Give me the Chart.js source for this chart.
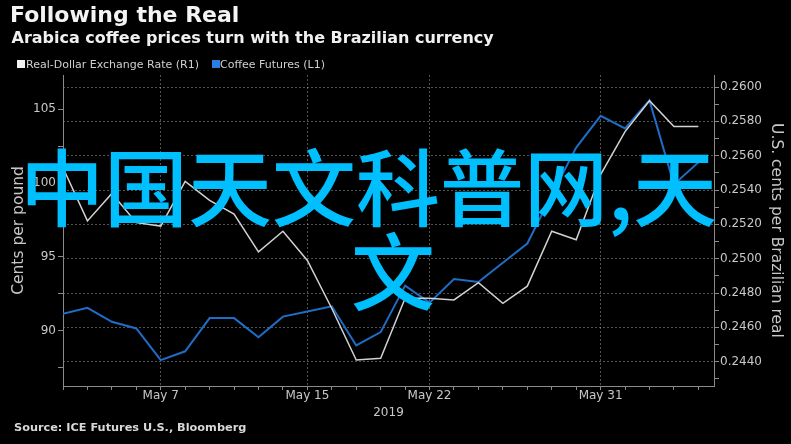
<!DOCTYPE html>
<html>
<head>
<meta charset="utf-8">
<script src="https://cdn.jsdelivr.net/npm/chart.js@4.4.1/dist/chart.umd.min.js"></script>
<style>
  body { margin: 0; background: #000; }
  #wrap { position: relative; width: 791px; height: 444px; overflow: hidden; background: #000; font-family: 'DejaVu Sans', sans-serif; }
  #c { position: absolute; left: 0; top: 0; }
  .txt { position: absolute; white-space: nowrap; line-height: 1; }
  #title { left: 10px; top: 4.4px; font-size: 22px; font-weight: bold; color: #f4f4f4; }
  #subtitle { left: 11.5px; top: 29.5px; font-size: 16px; font-weight: bold; color: #f0f0f0; }
  #source { left: 14px; top: 422px; font-size: 11.3px; font-weight: bold; color: #d8d8d8; }
  .leg { top: 59px; font-size: 11px; color: #cfcfcf; }
  .box { position: absolute; top: 60px; width: 8px; height: 8px; }
  #wm { position: absolute; left: 20px; top: 142px; font-family: 'Noto Sans CJK SC', sans-serif; font-size: 84px; font-weight: 500; line-height: 84px; color: #00bfff; white-space: nowrap; }
</style>
</head>
<body>
<div id="wrap">
  <canvas id="c" width="791" height="444"></canvas>
  <div id="title" class="txt">Following the Real</div>
  <div id="subtitle" class="txt">Arabica coffee prices turn with the Brazilian currency</div>
  <div id="legend"></div>
  <div id="source" class="txt">Source: ICE Futures U.S., Bloomberg</div>
  <div id="wm">中国天文科普网,天<br><span style="margin-left:331px">文</span></div>
</div>
<script>
// trading days shown on the x axis
const dates = ['May 1', 'May 2', 'May 3', 'May 6', 'May 7', 'May 8', 'May 9', 'May 10',
  'May 13', 'May 14', 'May 15', 'May 16', 'May 17', 'May 20', 'May 21', 'May 22',
  'May 23', 'May 24', 'May 27', 'May 28', 'May 29', 'May 30', 'May 31',
  'Jun 3', 'Jun 4', 'Jun 5', 'Jun 6'];
const labelledDates = ['May 7', 'May 15', 'May 22', 'May 31'];

// Real-Dollar exchange rate (right axis, US cents per real)
const realDollar = [0.2553, 0.2522, 0.2538, 0.2521, 0.2519, 0.2545, 0.2534, 0.2526,
  0.2504, 0.2516, 0.2499, 0.2471, 0.2441, 0.2442, 0.2477, 0.2477,
  0.2476, 0.2486, 0.2474, 0.2484, 0.2516, 0.2511, 0.2549,
  0.2574, 0.2592, 0.2577, 0.2577];

// Coffee futures (left axis, cents per pound)
const coffeeFutures = [91.15, 91.55, 90.6, 90.15, 88.0, 88.6, 90.85, 90.85,
  89.55, 90.95, 91.3, 91.65, 89.0, 89.9, 93.05, 91.9,
  93.5, 93.3, 94.6, 95.9, 99.2, 102.4, 104.55,
  103.7, 105.6, 99.9, 101.4];

const leftTicks = [87.5, 90, 92.5, 95, 97.5, 100, 102.5, 105];
const rightTicks = [0.243, 0.244, 0.245, 0.246, 0.247, 0.248, 0.249, 0.250, 0.251,
  0.252, 0.253, 0.254, 0.255, 0.256, 0.257, 0.258, 0.259, 0.260];

const axisColor = '#8a8a8a';
const gridColor = 'rgba(255,255,255,0.32)';
const tickFont = { family: 'DejaVu Sans', size: 12 };
const titleFont = { family: 'DejaVu Sans', size: 15.5 };
const labelColor = '#c8c8c8';

const series = [
  { label: 'Real-Dollar Exchange Rate (R1)', values: realDollar, color: '#d2d2d2', legend: '#f2f2f2', axis: 'y1', width: 1.5 },
  { label: 'Coffee Futures (L1)', values: coffeeFutures, color: '#1f6dc6', legend: '#2a7fe2', axis: 'y', width: 2 }
];

// html legend
const legend = document.getElementById('legend');
const legendPos = [{ box: 17, text: 26 }, { box: 211.5, text: 220 }];
series.forEach((s, i) => {
  const box = document.createElement('div');
  box.className = 'box';
  box.style.left = legendPos[i].box + 'px';
  box.style.background = s.legend;
  legend.appendChild(box);
  const t = document.createElement('div');
  t.className = 'txt leg';
  t.style.left = legendPos[i].text + 'px';
  t.textContent = s.label;
  legend.appendChild(t);
});

new Chart(document.getElementById('c'), {
  type: 'line',
  data: {
    datasets: series.map(s => ({
      label: s.label,
      data: s.values.map((v, i) => ({ x: i, y: v })),
      borderColor: s.color,
      borderWidth: s.width,
      pointRadius: 0,
      tension: 0,
      fill: false,
      yAxisID: s.axis
    }))
  },
  options: {
    responsive: false,
    animation: false,
    layout: { padding: { top: 75, left: 0, right: 0, bottom: 0 } },
    plugins: { legend: { display: false }, tooltip: { enabled: false } },
    scales: {
      x: {
        type: 'linear',
        min: 0,
        max: 26.64,
        afterBuildTicks: s => { s.ticks = dates.map((d, i) => ({ value: i })); },
        afterFit: s => { s.height = 58; },
        ticks: {
          autoSkip: false,
          maxRotation: 0,
          padding: -1.5,
          color: labelColor,
          font: tickFont,
          callback: v => labelledDates.includes(dates[v]) ? dates[v] : ''
        },
        grid: {
          color: ctx => ctx.tick && labelledDates.includes(dates[ctx.tick.value]) ? gridColor : 'rgba(0,0,0,0)',
          tickColor: axisColor,
          tickLength: 4
        },
        border: { color: axisColor, dash: [2, 2] },
        title: { display: true, text: '2019', color: labelColor, font: tickFont, padding: { top: 0, bottom: 23.8 } }
      },
      y: {
        position: 'left',
        min: 86.25,
        max: 107.32,
        afterBuildTicks: s => { s.ticks = leftTicks.map(v => ({ value: v })); },
        afterFit: s => { s.width = 63; },
        ticks: {
          padding: 2,
          color: labelColor,
          font: tickFont,
          callback: v => v % 5 === 0 ? String(v) : ''
        },
        grid: { drawOnChartArea: false, tickColor: axisColor, tickLength: 5 },
        border: { color: axisColor },
        title: { display: true, text: 'Cents per pound', color: labelColor, font: titleFont, padding: { top: 10 } }
      },
      y1: {
        position: 'right',
        min: 0.242585,
        max: 0.2607,
        afterBuildTicks: s => { s.ticks = rightTicks.map(v => ({ value: v })); },
        afterFit: s => { s.width = 77; },
        ticks: {
          padding: 1,
          color: labelColor,
          font: tickFont,
          callback: v => Math.round(v * 1000) % 2 === 0 ? v.toFixed(4) : ''
        },
        grid: {
          color: ctx => ctx.tick && Math.round(ctx.tick.value * 1000) % 2 === 0 ? gridColor : 'rgba(0,0,0,0)',
          tickColor: axisColor,
          tickLength: 5
        },
        border: { color: axisColor, dash: [2, 2] },
        title: { display: true, text: 'U.S. cents per Brazilian real', color: labelColor, font: titleFont, padding: { top: 5.4 } }
      }
    }
  }
});
</script>
</body>
</html>
